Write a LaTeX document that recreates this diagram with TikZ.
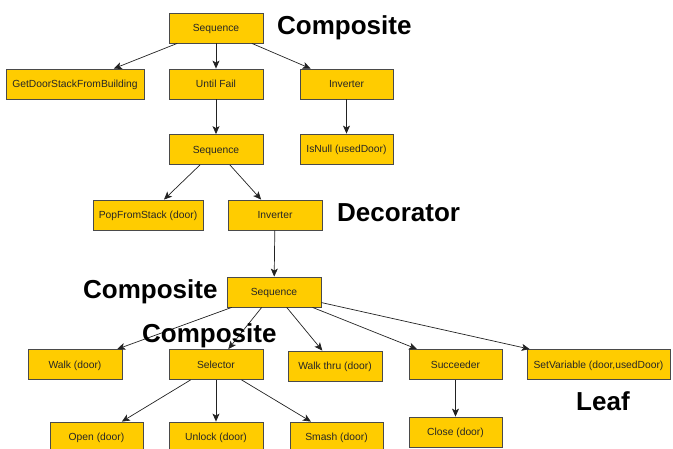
\documentclass[tikz,border=0pt]{standalone}
\usepackage{fontspec}
\setmainfont{Liberation Sans}
\usetikzlibrary{arrows.meta}
\definecolor{boxfill}{HTML}{FFCC00}
\definecolor{boxline}{HTML}{4A4A4A}
\definecolor{edgecol}{HTML}{222222}
\tikzset{
  bt/.style={draw=boxline, fill=boxfill, line width=0.8pt, minimum width=#1, minimum height=30pt,
    inner sep=0pt, text height=7.2pt, text depth=0pt,
    font=\fontsize{10.3}{12}\selectfont, text=black!85, anchor=center},
  bt/.default=94pt,
  edge/.style={draw=edgecol, line width=0.7pt, -{Stealth[length=8pt,width=7pt,inset=2pt]}},
  biglabel/.style={font=\fontsize{26}{30}\selectfont\bfseries, inner sep=0pt, anchor=base west, text=black}
}
\begin{document}
\begin{tikzpicture}[x=1pt,y=-1pt]
\useasboundingbox (0,0) rectangle (673,449);
% nodes
\node[bt] (seqA) at (216,28) {Sequence};
\node[bt=138pt] (getdoor) at (75,84) {GetDoorStackFromBuilding};
\node[bt] (until) at (216,84) {Until Fail};
\node[bt=93pt] (invA) at (346.5,84) {Inverter};
\node[bt] (seqB) at (216,149.5) {Sequence};
\node[bt=93pt] (isnull) at (346.5,149) {IsNull (usedDoor)};
\node[bt=110pt] (pop) at (148,215) {PopFromStack (door)};
\node[bt] (invB) at (275,215) {Inverter};
\node[bt] (seqC) at (274,292) {Sequence};
\node[bt] (walk) at (75,364.5) {Walk (door)};
\node[bt] (sel) at (216,364.5) {Selector};
\node[bt] (walkthru) at (335,366) {Walk thru (door)};
\node[bt=93pt] (succ) at (455.5,364.5) {Succeeder};
\node[bt=143pt] (setvar) at (598.5,364.5) {SetVariable (door,usedDoor)};
\node[bt=93pt] (open) at (96.5,437) {Open (door)};
\node[bt] (unlock) at (216,437) {Unlock (door)};
\node[bt=93pt] (smash) at (336.5,437) {Smash (door)};
\node[bt=93pt] (close) at (455.5,432) {Close (door)};
% edges
\draw[edge] (seqA) -- (getdoor);
\draw[edge] (seqA) -- (until);
\draw[edge] (seqA) -- (invA);
\draw[edge] (until) -- (seqB);
\draw[edge] (invA) -- (isnull);
\draw[edge] (seqB) -- (pop);
\draw[edge] (seqB) -- (invB);
\draw[edge] (invB) -- (seqC);
\draw[edge] (seqC) -- (walk);
\draw[edge] (seqC) -- (sel);
\draw[edge] (seqC) -- (walkthru);
\draw[edge] (seqC) -- (succ);
\draw[edge] (seqC) -- (setvar);
\draw[edge] (sel) -- (open);
\draw[edge] (sel) -- (unlock);
\draw[edge] (sel) -- (smash);
\draw[edge] (succ) -- (close);
% labels
\node[biglabel] (lblA) at (277,35) {Composite};
\node[biglabel] (lblB) at (337,222) {Decorator};
\node[biglabel] (lblC) at (83,299) {Composite};
\node[biglabel] (lblD) at (142,343) {Composite};
\node[biglabel] (lblE) at (576,411) {Leaf};
\end{tikzpicture}
\end{document}
